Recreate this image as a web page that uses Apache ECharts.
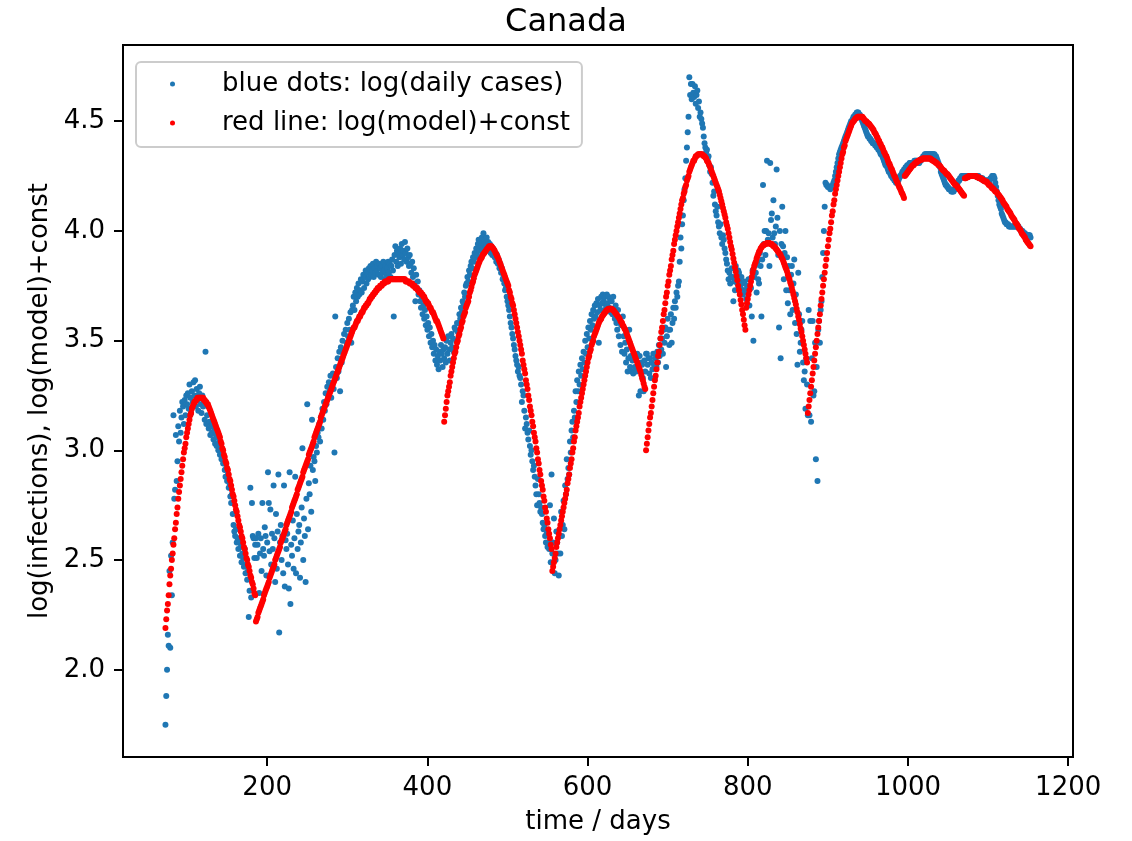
<!DOCTYPE html>
<html>
<head>
<meta charset="utf-8">
<script src="https://cdn.jsdelivr.net/npm/echarts@6/dist/echarts.min.js"></script>
<style>
  html, body { margin: 0; padding: 0; background: #ffffff; }
  #chart { width: 1132px; height: 841px; }
</style>
</head>
<body>
<div id="chart"></div>
<script>
// Tick positions
const xTicks = [200, 400, 600, 800, 1000, 1200];
const yTicks = [2.0, 2.5, 3.0, 3.5, 4.0, 4.5];

// log(daily cases), one value per day, in chunks starting at the given day
const cases073 = [
  1.75, 1.88, 2.00, 2.16, 2.11, 2.45, 2.10, 2.52, 2.34, 2.58,
  3.16, 2.78, 2.82, 3.07, 2.86, 2.95, 3.11, 3.04, 3.18, 3.08,
  3.15, 3.22, 3.20, 3.12, 3.23, 3.16, 3.25, 3.21, 3.26, 3.19,
  3.30, 3.24, 3.17, 3.27, 3.22, 3.31, 3.25, 3.32, 3.20, 3.28,
  3.23, 3.18, 3.26, 3.29, 3.21, 3.17, 3.25, 3.20, 3.22, 3.14,
  3.45, 3.12, 3.16, 3.20, 3.10, 3.13, 3.07, 3.11, 3.08, 3.12,
  3.05, 3.09, 3.03, 3.07, 3.02, 3.06, 3.00, 3.04, 2.98, 3.01,
  2.96, 2.99, 2.94, 2.97, 2.91, 2.88, 2.92, 2.86, 2.89, 2.83,
  2.85, 2.79, 2.76, 2.80, 2.71, 2.66, 2.63, 2.61, 2.64, 2.58,
  2.60, 2.55, 2.58, 2.52, 2.56, 2.49, 2.53, 2.51, 2.47, 2.55,
  2.44, 2.48, 2.41, 2.45, 2.24, 2.36, 2.83, 2.33, 2.76, 2.61
];
const cases183 = [
  2.60, 2.51, 2.57, 2.60, 2.51, 2.57, 2.62, 2.35, 2.53, 2.60,
  2.45, 2.76, 2.55, 2.52, 2.65, 2.61, 2.43, 2.58, 2.90, 2.76,
  2.54, 2.73, 2.48, 2.62, 2.55, 2.84, 2.60, 2.40, 2.71, 2.46,
  2.63, 2.89, 2.17, 2.58, 2.66, 2.50, 2.61, 2.44, 2.84, 2.38,
  2.59, 2.55, 2.62, 2.48, 2.37, 2.90, 2.30, 2.57, 2.52, 2.68,
  2.46, 2.60, 2.88, 2.44, 2.71, 2.55, 2.63, 2.66, 2.42, 2.58,
  2.74, 3.01, 2.50, 2.69, 2.61, 2.40, 2.78, 3.21, 2.64, 2.85,
  2.80, 2.93, 2.72, 3.14, 2.91, 2.97, 2.95, 2.86, 3.02, 2.99,
  3.08, 3.06, 3.12, 3.04, 3.15, 3.10, 3.19, 3.14, 3.22, 3.18,
  3.26, 3.21, 3.29, 3.25, 3.31, 3.27, 3.34, 3.24, 3.30, 3.35
];
const cases283 = [
  3.28, 2.99, 3.61, 3.38, 3.33, 3.42, 3.36, 3.45, 3.27, 3.47,
  3.40, 3.50, 3.44, 3.53, 3.46, 3.55, 3.49, 3.58, 3.52, 3.60,
  3.55, 3.63, 3.49, 3.64, 3.66, 3.70, 3.64, 3.72, 3.68, 3.74,
  3.70, 3.76, 3.71, 3.73, 3.78, 3.72, 3.77, 3.80, 3.74, 3.79,
  3.82, 3.76, 3.81, 3.78, 3.83, 3.79, 3.84, 3.80, 3.82, 3.85,
  3.79, 3.83, 3.81, 3.86, 3.82, 3.84, 3.80, 3.85, 3.83, 3.79,
  3.84, 3.81, 3.86, 3.82, 3.78, 3.84, 3.80, 3.83, 3.86, 3.81,
  3.85, 3.79, 3.84, 3.87, 3.82, 3.61, 3.89, 3.93, 3.86, 3.91,
  3.84, 3.90, 3.88, 3.92, 3.85, 3.94, 3.89, 3.91, 3.87, 3.95,
  3.90, 3.86, 3.92, 3.88, 3.84, 3.89, 3.85, 3.81, 3.86, 3.79
];
const cases383 = [
  3.83, 3.76, 3.68, 3.80, 3.74, 3.77, 3.71, 3.73, 3.68, 3.65,
  3.70, 3.62, 3.66, 3.60, 3.64, 3.57, 3.61, 3.55, 3.58, 3.52,
  3.56, 3.49, 3.53, 3.47, 3.50, 3.44, 3.48, 3.41, 3.46, 3.39,
  3.43, 3.37, 3.45, 3.41, 3.48, 3.44, 3.38, 3.46, 3.42, 3.47,
  3.40, 3.50, 3.44, 3.52, 3.46, 3.41, 3.49, 3.53, 3.47, 3.51,
  3.45, 3.56, 3.55, 3.50, 3.58, 3.54, 3.58, 3.62, 3.60, 3.65,
  3.63, 3.68, 3.67, 3.72, 3.70, 3.75, 3.76, 3.79, 3.77, 3.82,
  3.80, 3.84, 3.86, 3.83, 3.88, 3.86, 3.90, 3.88, 3.92, 3.89,
  3.94, 3.96, 3.91, 3.95, 3.93, 3.97, 3.92, 3.99, 3.94, 3.96,
  3.93, 3.97, 3.92, 3.95, 3.91, 3.94, 3.90, 3.93, 3.89, 3.92,
  3.91, 3.88, 3.90, 3.86, 3.89, 3.85, 3.87, 3.83, 3.85, 3.81,
  3.83, 3.78, 3.79, 3.76, 3.73, 3.74, 3.70, 3.68, 3.66, 3.64,
  3.61, 3.58, 3.56, 3.53, 3.51, 3.48, 3.46, 3.43, 3.41, 3.39,
  3.36, 3.38, 3.34, 3.33, 3.30
];
const cases518 = [
  3.22, 3.27, 3.25, 3.18, 3.10, 3.15, 3.12, 3.08, 3.05, 3.09,
  3.02, 2.98, 3.00, 2.95, 2.91, 2.93, 2.88, 2.84, 2.80, 2.75,
  2.87, 2.80, 2.76, 2.72, 2.74, 2.71, 2.67, 2.64, 2.66, 2.61,
  2.58, 2.62, 2.56, 2.58, 2.55, 2.75, 2.49, 2.89, 2.53, 2.58,
  2.69, 2.44, 2.50, 2.63, 2.58, 2.53, 2.43, 2.61, 2.53, 2.72,
  2.61, 2.66, 2.77, 2.64, 2.84, 2.80, 2.96, 2.87, 2.92, 2.89,
  3.04, 2.99, 3.09, 3.13, 3.06, 3.18, 3.15, 3.27, 3.22, 3.32
];
const cases588 = [
  3.27, 3.36, 3.30, 3.39, 3.34, 3.42, 3.37, 3.45, 3.40, 3.50,
  3.44, 3.53, 3.47, 3.56, 3.51, 3.59, 3.55, 3.62, 3.57, 3.64,
  3.60, 3.66, 3.61, 3.67, 3.63, 3.69, 3.49, 3.66, 3.64, 3.70,
  3.67, 3.71, 3.68, 3.64, 3.70, 3.66, 3.71, 3.67, 3.70, 3.65,
  3.69, 3.63, 3.68, 3.62, 3.70, 3.64, 3.60, 3.66, 3.58, 3.55,
  3.64, 3.52, 3.60, 3.48, 3.57, 3.45, 3.61, 3.52, 3.44, 3.49,
  3.40, 3.46, 3.36, 3.42, 3.55, 3.38, 3.43, 3.36, 3.41, 3.35,
  3.42, 3.38, 3.42, 3.36, 3.44, 3.39, 3.25, 3.43, 3.27, 3.40,
  3.39, 3.33, 3.27, 3.41, 3.36, 3.44, 3.44, 3.39, 3.42, 3.35,
  3.42, 3.33, 3.40, 3.37, 3.44, 3.39, 3.33, 3.42, 3.38, 3.45,
  3.40, 3.48, 3.43, 3.51, 3.46, 3.51, 3.44, 3.55, 3.49, 3.56
];
const cases698 = [
  3.38, 3.52, 3.60, 3.55, 3.48, 3.55, 3.62, 3.49, 3.58, 3.65,
  3.60, 3.68, 3.65, 3.72, 3.70, 3.75, 3.77, 3.86, 3.97, 3.92,
  4.03, 4.07, 4.14, 4.19, 4.24, 4.32, 4.38, 4.45, 4.52, 4.70,
  4.62, 4.67, 4.60, 4.67, 4.63, 4.61, 4.66, 4.58, 4.62, 4.64,
  4.56, 4.59, 4.52, 4.54, 4.51, 4.49, 4.47, 4.43, 4.40, 4.38,
  4.36, 4.37, 4.33, 4.34, 4.30, 4.27, 4.29, 4.26, 4.22, 4.16,
  4.18, 4.12, 4.09, 4.07, 4.11, 4.04, 4.02, 3.99, 4.03, 3.97,
  3.94, 3.98, 3.96, 3.92, 3.90, 3.87, 3.85, 3.82, 3.78, 3.81,
  3.76, 3.79, 3.83, 3.79, 3.68, 3.77, 3.73, 3.84, 3.80, 3.76,
  3.82, 3.81, 3.77, 3.74, 3.79, 3.76, 3.71, 3.73, 3.77, 3.73
];
const cases798 = [
  3.69, 3.75, 3.72, 3.78, 3.66, 3.78, 3.74, 3.61, 3.82, 3.50,
  3.79, 3.84, 3.81, 3.72, 3.86, 3.78, 3.76, 3.90, 3.84, 3.61,
  3.87, 4.21, 3.94, 4.00, 3.89, 4.00, 4.32, 3.96, 3.99, 3.84,
  4.31, 4.05, 4.08, 3.97, 4.14, 3.99, 3.94, 4.02, 4.28, 4.06,
  3.89, 3.56, 4.00, 3.42, 3.94, 4.11, 3.93, 3.78, 3.90, 4.00,
  3.73, 3.88, 3.67, 3.84, 3.73, 3.62, 3.80, 3.84, 3.64, 3.76,
  3.87, 3.58, 3.71, 3.53, 3.39, 3.81, 3.62, 3.45, 3.49, 3.55,
  3.59, 3.40, 3.32, 3.36, 3.19, 3.42, 3.30, 3.16, 3.64, 3.16,
  3.59, 3.13, 3.42, 3.59, 3.25, 3.27, 3.49, 2.96, 3.38, 2.86,
  3.55, 3.59, 3.49, 3.64, 3.68, 3.79, 3.90, 4.00, 4.11, 4.22
];
const cases898 = [
  4.21, 4.21, 4.20, 4.20, 4.20, 4.19, 4.20, 4.20, 4.21, 4.22,
  4.23, 4.25, 4.27, 4.29, 4.31, 4.33, 4.35, 4.36, 4.37, 4.38,
  4.39, 4.40, 4.41, 4.42, 4.43, 4.44, 4.45, 4.46, 4.47, 4.48,
  4.49, 4.50, 4.50, 4.51, 4.52, 4.52, 4.53, 4.53, 4.54, 4.54,
  4.54, 4.53, 4.53, 4.52, 4.51, 4.50, 4.49, 4.48, 4.47, 4.46,
  4.45, 4.44, 4.43, 4.43, 4.42, 4.42, 4.41, 4.41, 4.40, 4.40,
  4.40, 4.39, 4.39, 4.38, 4.38, 4.37, 4.37, 4.36, 4.35, 4.35,
  4.34, 4.33, 4.32, 4.31, 4.30, 4.30, 4.29, 4.28, 4.27, 4.27,
  4.26, 4.25, 4.25, 4.24, 4.24, 4.23, 4.23, 4.22, 4.22, 4.23,
  4.23, 4.24, 4.25, 4.25, 4.26, 4.27, 4.27, 4.28, 4.28, 4.29,
  4.29, 4.30, 4.30, 4.30, 4.31, 4.31, 4.31, 4.31, 4.31, 4.31,
  4.32, 4.32, 4.32, 4.32, 4.32, 4.31, 4.31, 4.32, 4.32, 4.33,
  4.33, 4.34, 4.34, 4.35, 4.35, 4.35, 4.35, 4.35, 4.35, 4.35,
  4.35, 4.35, 4.35, 4.35, 4.35, 4.35, 4.34, 4.34, 4.33, 4.32,
  4.31, 4.30, 4.29, 4.27, 4.26, 4.25, 4.24, 4.23, 4.22, 4.21,
  4.21, 4.20, 4.20, 4.19, 4.19, 4.19, 4.18, 4.18, 4.18, 4.18,
  4.19, 4.19, 4.20, 4.21, 4.22, 4.23, 4.23, 4.24, 4.24, 4.25,
  4.25, 4.25, 4.25, 4.25, 4.25, 4.25, 4.25, 4.25, 4.25, 4.25,
  4.25, 4.25, 4.25, 4.25, 4.25, 4.25, 4.25, 4.25, 4.25, 4.25,
  4.25, 4.24, 4.24, 4.24, 4.24, 4.24, 4.23, 4.23, 4.23, 4.23,
  4.23, 4.23, 4.23, 4.23, 4.23, 4.24, 4.24, 4.25, 4.25, 4.25,
  4.24, 4.22, 4.20, 4.18, 4.16, 4.14, 4.12, 4.11, 4.10, 4.08,
  4.07, 4.06, 4.05, 4.04, 4.04, 4.03, 4.03, 4.03, 4.02, 4.02,
  4.02, 4.02, 4.02, 4.02, 4.02, 4.02, 4.02, 4.02, 4.02, 4.02,
  4.02, 4.01, 4.01, 4.00, 4.00, 4.00, 3.99, 3.99, 3.99, 3.98,
  3.98, 3.98, 3.98, 3.98, 3.98, 3.97
];

// log(model)+const, one value per day, one array per fitted wave
const model073 = [
  2.19, 2.23, 2.27, 2.30, 2.34, 2.39, 2.43, 2.46, 2.50, 2.53,
  2.57, 2.60, 2.64, 2.67, 2.71, 2.74, 2.78, 2.81, 2.84, 2.87,
  2.90, 2.93, 2.96, 2.99, 3.01, 3.03, 3.06, 3.08, 3.10, 3.12,
  3.14, 3.16, 3.17, 3.19, 3.20, 3.21, 3.22, 3.22, 3.23, 3.23,
  3.24, 3.24, 3.24, 3.24, 3.24, 3.24, 3.24, 3.24, 3.23, 3.23,
  3.22, 3.22, 3.21, 3.21, 3.20, 3.19, 3.18, 3.17, 3.16, 3.15,
  3.14, 3.13, 3.12, 3.11, 3.10, 3.09, 3.08, 3.07, 3.06, 3.04,
  3.03, 3.01, 3.00, 2.98, 2.97, 2.95, 2.94, 2.92, 2.91, 2.89,
  2.87, 2.86, 2.84, 2.82, 2.80, 2.79, 2.77, 2.75, 2.73, 2.72,
  2.70, 2.68, 2.66, 2.65, 2.63, 2.61, 2.60, 2.58, 2.56, 2.55,
  2.53, 2.51, 2.50, 2.48, 2.47, 2.45, 2.43, 2.42, 2.40, 2.39,
  2.37, 2.35, 2.34
];
const model186 = [
  2.22, 2.23, 2.24, 2.26, 2.27, 2.28, 2.29, 2.30, 2.31, 2.32,
  2.34, 2.35, 2.36, 2.37, 2.38, 2.39, 2.40, 2.42, 2.43, 2.44,
  2.45, 2.46, 2.47, 2.48, 2.50, 2.51, 2.52, 2.53, 2.54, 2.55,
  2.56, 2.58, 2.59, 2.60, 2.61, 2.62, 2.63, 2.64, 2.66, 2.67,
  2.68, 2.69, 2.70, 2.71, 2.72, 2.74, 2.75, 2.76, 2.77, 2.78,
  2.79, 2.80, 2.82, 2.83, 2.84, 2.85, 2.86, 2.87, 2.88, 2.90,
  2.91, 2.92, 2.93, 2.94, 2.95, 2.96, 2.98, 2.99, 3.00, 3.01,
  3.02, 3.03, 3.04, 3.06, 3.07, 3.08, 3.09, 3.10, 3.11, 3.12,
  3.13, 3.15, 3.16, 3.17, 3.18, 3.19, 3.20, 3.21, 3.22, 3.23,
  3.24, 3.25, 3.26, 3.27, 3.28, 3.29, 3.30, 3.31, 3.32, 3.33,
  3.34, 3.35, 3.36, 3.37, 3.38, 3.39, 3.40, 3.41, 3.42, 3.43,
  3.44, 3.45, 3.46, 3.47, 3.48, 3.49, 3.50, 3.51, 3.52, 3.53,
  3.54, 3.55, 3.56, 3.56, 3.57, 3.58, 3.59, 3.59, 3.60, 3.61,
  3.61, 3.62, 3.63, 3.63, 3.64, 3.65, 3.65, 3.66, 3.66, 3.67,
  3.67, 3.68, 3.69, 3.69, 3.70, 3.70, 3.71, 3.71, 3.72, 3.72,
  3.73, 3.73, 3.74, 3.74, 3.74, 3.75, 3.75, 3.75, 3.76, 3.76,
  3.76, 3.77, 3.77, 3.77, 3.77, 3.77, 3.78, 3.78, 3.78, 3.78,
  3.78, 3.78, 3.78, 3.78, 3.78, 3.78, 3.78, 3.78, 3.78, 3.78,
  3.78, 3.78, 3.78, 3.78, 3.78, 3.78, 3.78, 3.77, 3.77, 3.77,
  3.77, 3.77, 3.76, 3.76, 3.76, 3.76, 3.75, 3.75, 3.75, 3.74,
  3.74, 3.74, 3.73, 3.73, 3.72, 3.72, 3.72, 3.71, 3.71, 3.70,
  3.70, 3.69, 3.68, 3.68, 3.67, 3.67, 3.66, 3.65, 3.65, 3.64,
  3.63, 3.63, 3.62, 3.61, 3.60, 3.59, 3.59, 3.58, 3.57, 3.56,
  3.55, 3.54, 3.53, 3.52, 3.51
];
const model421 = [
  3.13, 3.16, 3.19, 3.22, 3.25, 3.27, 3.29, 3.31, 3.34, 3.36,
  3.38, 3.40, 3.42, 3.44, 3.45, 3.47, 3.49, 3.50, 3.52, 3.53,
  3.55, 3.56, 3.58, 3.59, 3.61, 3.62, 3.63, 3.65, 3.66, 3.67,
  3.68, 3.70, 3.72, 3.73, 3.745, 3.76, 3.77, 3.785, 3.80, 3.81,
  3.82, 3.83, 3.84, 3.85, 3.86, 3.87, 3.875, 3.88, 3.89, 3.895,
  3.90, 3.905, 3.91, 3.915, 3.92, 3.925, 3.93, 3.93, 3.93, 3.93,
  3.925, 3.92, 3.915, 3.91, 3.90, 3.895, 3.885, 3.88, 3.87, 3.86,
  3.85, 3.84, 3.83, 3.82, 3.81, 3.80, 3.79, 3.78, 3.77, 3.76,
  3.75, 3.73, 3.72, 3.70, 3.69, 3.67, 3.66, 3.64, 3.62, 3.60,
  3.58, 3.56, 3.54, 3.52, 3.50, 3.48, 3.46, 3.44, 3.41, 3.39,
  3.37, 3.35, 3.32, 3.30, 3.28, 3.25, 3.23, 3.20, 3.18, 3.16,
  3.13, 3.11, 3.08, 3.06, 3.04, 3.01, 2.99, 2.96, 2.94, 2.91,
  2.89, 2.86, 2.84, 2.82, 2.79, 2.77, 2.74, 2.72, 2.69, 2.67,
  2.64, 2.62, 2.60, 2.57, 2.55
];
const model556 = [
  2.45, 2.47, 2.49, 2.51, 2.53, 2.56, 2.58, 2.60, 2.62, 2.64,
  2.66, 2.68, 2.70, 2.72, 2.74, 2.76, 2.78, 2.80, 2.82, 2.85,
  2.87, 2.89, 2.92, 2.94, 2.96, 2.99, 3.01, 3.04, 3.06, 3.09,
  3.11, 3.13, 3.15, 3.17, 3.20, 3.22, 3.24, 3.26, 3.28, 3.30,
  3.32, 3.34, 3.36, 3.38, 3.40, 3.42, 3.43, 3.45, 3.46, 3.48,
  3.49, 3.50, 3.52, 3.53, 3.54, 3.55, 3.56, 3.57, 3.58, 3.59,
  3.595, 3.60, 3.61, 3.615, 3.62, 3.625, 3.63, 3.635, 3.64, 3.64,
  3.645, 3.645, 3.645, 3.645, 3.645, 3.64, 3.64, 3.635, 3.63, 3.625,
  3.62, 3.615, 3.61, 3.605, 3.60, 3.59, 3.585, 3.58, 3.57, 3.565,
  3.555, 3.55, 3.54, 3.53, 3.52, 3.51, 3.50, 3.49, 3.48, 3.47,
  3.46, 3.45, 3.44, 3.43, 3.42, 3.41, 3.40, 3.39, 3.38, 3.37,
  3.36, 3.345, 3.33, 3.32, 3.305, 3.29, 3.28
];
const model673 = [
  3.00, 3.03, 3.06, 3.09, 3.12, 3.15, 3.17, 3.20, 3.23, 3.26,
  3.29, 3.32, 3.34, 3.37, 3.40, 3.43, 3.45, 3.48, 3.51, 3.54,
  3.56, 3.59, 3.62, 3.64, 3.67, 3.70, 3.72, 3.75, 3.77, 3.80,
  3.82, 3.84, 3.87, 3.89, 3.91, 3.94, 3.96, 3.98, 4.00, 4.02,
  4.04, 4.06, 4.08, 4.10, 4.12, 4.14, 4.15, 4.17, 4.18, 4.20,
  4.21, 4.23, 4.24, 4.25, 4.27, 4.28, 4.29, 4.30, 4.31, 4.32,
  4.32, 4.33, 4.34, 4.34, 4.345, 4.35, 4.35, 4.35, 4.35, 4.35,
  4.35, 4.345, 4.34, 4.34, 4.335, 4.33, 4.32, 4.315, 4.31, 4.30,
  4.29, 4.28, 4.27, 4.26, 4.25, 4.24, 4.23, 4.22, 4.21, 4.20,
  4.19, 4.18, 4.165, 4.15, 4.135, 4.12, 4.105, 4.09, 4.075, 4.06,
  4.04, 4.025, 4.01, 3.99, 3.97, 3.95, 3.93, 3.915, 3.895, 3.875,
  3.855, 3.835, 3.815, 3.795, 3.775, 3.75, 3.73, 3.71, 3.685, 3.665,
  3.64, 3.62, 3.595, 3.57, 3.55
];
const model798 = [
  3.65, 3.67, 3.69, 3.71, 3.73, 3.75, 3.77, 3.79, 3.81, 3.825,
  3.84, 3.85, 3.86, 3.875, 3.885, 3.895, 3.905, 3.91, 3.92, 3.925,
  3.93, 3.935, 3.935, 3.94, 3.94, 3.94, 3.945, 3.945, 3.945, 3.945,
  3.94, 3.94, 3.94, 3.935, 3.93, 3.93, 3.925, 3.92, 3.915, 3.91,
  3.905, 3.90, 3.895, 3.89, 3.88, 3.875, 3.865, 3.855, 3.845, 3.835,
  3.825, 3.815, 3.80, 3.79, 3.78, 3.765, 3.755, 3.74, 3.725, 3.71,
  3.695, 3.68, 3.665, 3.645, 3.63, 3.61, 3.595, 3.575, 3.555, 3.54,
  3.52, 3.50, 3.48, 3.46, 3.44, 3.42, 3.40
];
const model875 = [
  3.17, 3.20, 3.23, 3.26, 3.29, 3.32, 3.35, 3.38, 3.41, 3.44,
  3.47, 3.50, 3.53, 3.56, 3.59, 3.62, 3.66, 3.69, 3.72, 3.75,
  3.78, 3.81, 3.84, 3.87, 3.90, 3.93, 3.96, 3.99, 4.01, 4.04,
  4.07, 4.09, 4.12, 4.14, 4.17, 4.19, 4.21, 4.23, 4.25, 4.27,
  4.29, 4.31, 4.33, 4.35, 4.36, 4.38, 4.39, 4.41, 4.42, 4.43,
  4.44, 4.45, 4.46, 4.47, 4.48, 4.49, 4.495, 4.50, 4.505, 4.51,
  4.515, 4.515, 4.52, 4.52, 4.52, 4.52, 4.52, 4.52, 4.52, 4.515,
  4.51, 4.505, 4.50, 4.50, 4.495, 4.49, 4.49, 4.485, 4.48, 4.475,
  4.47, 4.465, 4.46, 4.45, 4.445, 4.44, 4.43, 4.425, 4.415, 4.41,
  4.40, 4.395, 4.385, 4.38, 4.37, 4.36, 4.355, 4.345, 4.34, 4.33,
  4.32, 4.31, 4.305, 4.295, 4.285, 4.28, 4.27, 4.26, 4.25, 4.245,
  4.235, 4.225, 4.22, 4.21, 4.20, 4.195, 4.185, 4.175, 4.17, 4.16,
  4.15
];
const model996 = [
  4.25, 4.255, 4.26, 4.265, 4.27, 4.275, 4.28, 4.285, 4.29, 4.295,
  4.30, 4.30, 4.305, 4.31, 4.31, 4.315, 4.315, 4.32, 4.32, 4.325,
  4.325, 4.325, 4.33, 4.33, 4.33, 4.33, 4.33, 4.33, 4.33, 4.33,
  4.33, 4.33, 4.33, 4.325, 4.325, 4.32, 4.32, 4.315, 4.315, 4.31,
  4.31, 4.305, 4.30, 4.30, 4.295, 4.29, 4.285, 4.28, 4.275, 4.275,
  4.27, 4.265, 4.26, 4.26, 4.255, 4.25, 4.245, 4.24, 4.235, 4.23,
  4.225, 4.22, 4.215, 4.21, 4.21, 4.205, 4.20, 4.195, 4.19, 4.185,
  4.18, 4.175, 4.17, 4.165, 4.16
];
const model1071 = [
  4.24, 4.24, 4.245, 4.245, 4.245, 4.25, 4.25, 4.25, 4.25, 4.25,
  4.25, 4.25, 4.25, 4.25, 4.25, 4.245, 4.245, 4.245, 4.24, 4.24,
  4.24, 4.235, 4.235, 4.23, 4.23, 4.225, 4.225, 4.225, 4.22, 4.215,
  4.21, 4.21, 4.205, 4.20, 4.195, 4.195, 4.19, 4.185, 4.18, 4.18,
  4.175, 4.17, 4.165, 4.16, 4.155, 4.15, 4.145, 4.14, 4.13, 4.125,
  4.12, 4.115, 4.11, 4.10, 4.095, 4.09, 4.085, 4.08, 4.07, 4.065,
  4.06, 4.055, 4.05, 4.04, 4.035, 4.03, 4.025, 4.015, 4.01, 4.005,
  4.00, 3.99, 3.985, 3.98, 3.975, 3.97, 3.96, 3.955, 3.95, 3.945,
  3.94, 3.935, 3.93
];

const caseChunks = [
  [73, cases073], [183, cases183], [283, cases283], [383, cases383],
  [518, cases518], [588, cases588], [698, cases698], [798, cases798], [898, cases898]
];
const modelWaves = [
  [73, model073], [186, model186], [421, model421], [556, model556], [673, model673],
  [798, model798], [875, model875], [996, model996], [1071, model1071]
];

const seriesNames = ['blue dots: log(daily cases)', 'red line: log(model)+const'];

function toPoints(chunks) {
  const pts = [];
  chunks.forEach(([start, vals]) => {
    vals.forEach((v, i) => pts.push([start + i, v]));
  });
  return pts;
}

const FONT = "'DejaVu Sans', 'Noto Sans', sans-serif";
const chart = echarts.init(document.getElementById('chart'), null, { renderer: 'canvas' });

const axisText = { fontFamily: FONT, fontSize: 26, color: '#000000' };

chart.setOption({
  animation: false,
  backgroundColor: '#ffffff',
  title: {
    text: 'Canada',
    left: 'center',
    top: 2,
    textStyle: { fontFamily: FONT, fontSize: 32, fontWeight: 'normal', color: '#000000' }
  },
  legend: {
    orient: 'vertical',
    left: 136,
    top: 62,
    padding: [9, 12, 11, 34],
    itemWidth: 5,
    itemHeight: 5,
    itemGap: 13,
    selectedMode: false,
    backgroundColor: 'rgba(255,255,255,0.8)',
    borderColor: '#cccccc',
    borderWidth: 2,
    borderRadius: 5,
    formatter: (name) => '{t|' + name + '}',
    textStyle: {
      fontFamily: FONT, fontSize: 26, color: '#000000',
      rich: { t: { fontFamily: FONT, fontSize: 26, color: '#000000', lineHeight: 26, padding: [0, 0, 0, 42] } }
    },
    data: [
      { name: seriesNames[0], icon: 'circle' },
      { name: seriesNames[1], icon: 'circle' }
    ]
  },
  grid: {
    left: 123, top: 45, width: 950, height: 712,
    show: true, borderColor: '#000000', borderWidth: 2, backgroundColor: 'transparent'
  },
  xAxis: {
    type: 'value',
    min: 20,
    max: 1206,
    name: 'time / days',
    nameLocation: 'middle',
    nameGap: 52,
    nameTextStyle: axisText,
    axisLine: { show: false },
    axisTick: { show: true, inside: false, length: 9, customValues: xTicks, lineStyle: { color: '#000000', width: 2 } },
    axisLabel: Object.assign({ customValues: xTicks, margin: 18, formatter: (v) => String(Math.round(v)) }, axisText),
    splitLine: { show: false }
  },
  yAxis: {
    type: 'value',
    min: 1.6025,
    max: 4.8475,
    name: 'log(infections), log(model)+const',
    nameLocation: 'middle',
    nameGap: 70,
    nameRotate: 90,
    nameTextStyle: axisText,
    axisLine: { show: false },
    axisTick: { show: true, inside: false, length: 9, customValues: yTicks, lineStyle: { color: '#000000', width: 2 } },
    axisLabel: Object.assign({ customValues: yTicks, margin: 18, formatter: (v) => Number(v).toFixed(1) }, axisText),
    splitLine: { show: false }
  },
  series: [
    {
      name: seriesNames[0],
      type: 'scatter',
      symbol: 'circle',
      symbolSize: 6,
      itemStyle: { color: '#1f77b4', opacity: 1 },
      data: toPoints(caseChunks),
      z: 2
    },
    {
      name: seriesNames[1],
      type: 'scatter',
      symbol: 'circle',
      symbolSize: 6,
      itemStyle: { color: '#ff0000', opacity: 1 },
      data: toPoints(modelWaves),
      z: 3
    }
  ]
});
</script>
</body>
</html>
